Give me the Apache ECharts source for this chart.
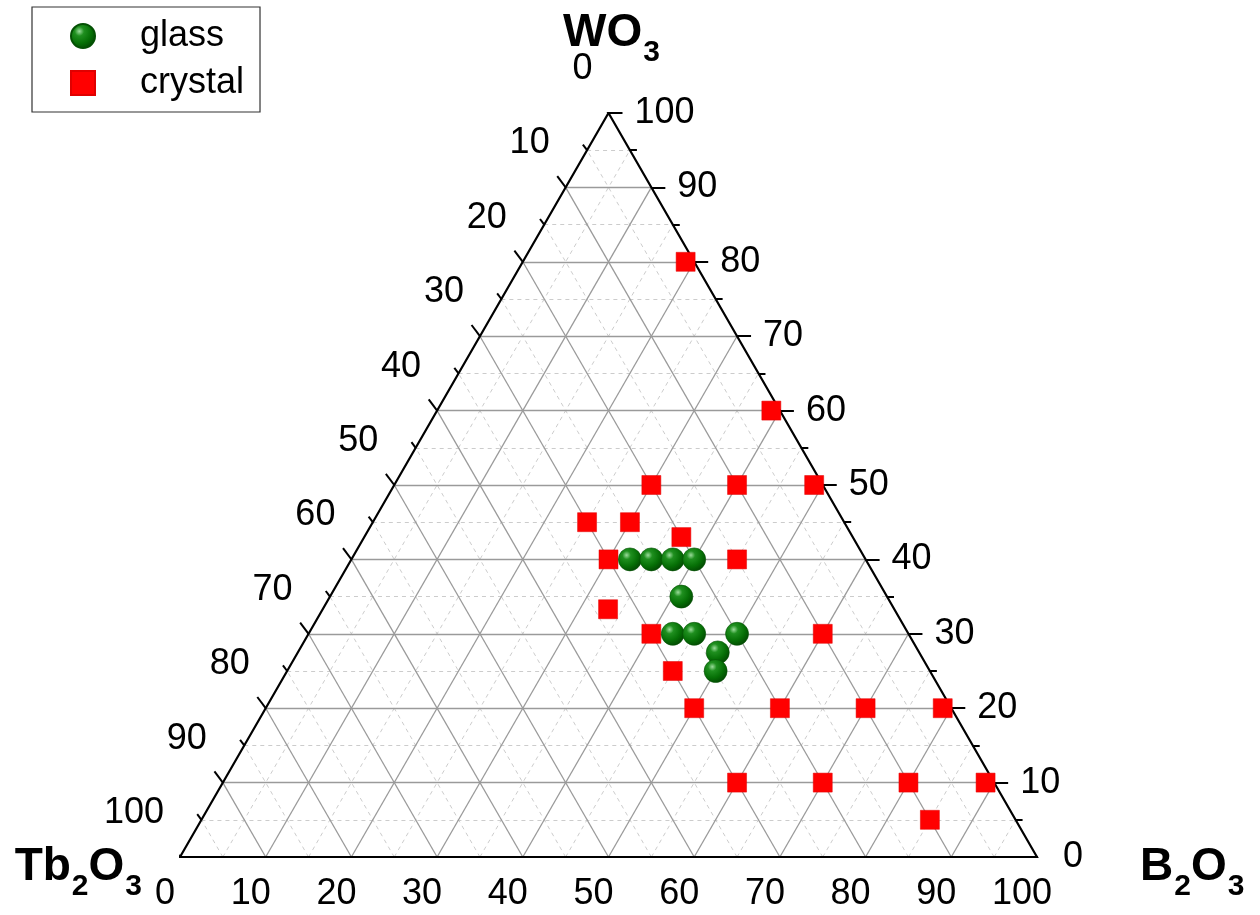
<!DOCTYPE html>
<html>
<head>
<meta charset="utf-8">
<title>WO3 – B2O3 – Tb2O3 glass-forming region</title>
<script src="https://cdn.jsdelivr.net/npm/echarts@6/dist/echarts.min.js"></script>
<style>
  html, body { margin: 0; padding: 0; background: #ffffff; }
  #chart { width: 1260px; height: 915px; }
</style>
</head>
<body>
<div id="chart"></div>
<script>
// Compositions in mol% : WO3, B2O3, Tb2O3
const crystalWO3   = [80, 60, 50, 50, 50, 45, 45, 43, 40, 40, 33.3, 30, 30, 25, 20, 20, 20, 20, 10, 10, 10, 10, 5];
const crystalB2O3  = [19, 39, 30, 40, 49, 25, 30, 37, 30, 45, 33.3, 40, 60, 45, 50, 60, 70, 79, 60, 70, 80, 89, 85];
const crystalTb2O3 = [1, 1, 20, 10, 1, 30, 25, 20, 30, 15, 33.4, 30, 10, 30, 30, 20, 10, 1, 30, 20, 10, 1, 10];

const glassWO3   = [40, 40, 40, 40, 35, 30, 30, 30, 27.5, 25];
const glassB2O3  = [32.5, 35, 37.5, 40, 41, 42.5, 45, 50, 49, 50];
const glassTb2O3 = [27.5, 25, 22.5, 20, 24, 27.5, 25, 20, 23.5, 25];

// Axis ticks (same scale on all three sides)
const tickValues = [0, 10, 20, 30, 40, 50, 60, 70, 80, 90, 100];
const minorValues = [5, 15, 25, 35, 45, 55, 65, 75, 85, 95];

// Plot area of the triangle
const GRID = { left: 180, right: 223, top: 113, bottom: 58 };
const plotW = 1260 - GRID.left - GRID.right;
const plotH = 915 - GRID.top - GRID.bottom;
const pxX = plotW / 100;   // pixels per x unit
const pxY = plotH / 100;   // pixels per y unit

// ternary (WO3 top, B2O3 right, Tb2O3 left) -> cartesian [x, y]
function toXY(w, b, t) {
  const s = w + b + t;
  const wn = w / s * 100, bn = b / s * 100;
  return [bn + wn / 2, wn];
}
// offset a data point by a pixel vector
function shift(p, dx, dy) {
  return [p[0] + dx / pxX, p[1] - dy / pxY];
}

const crystalData = crystalWO3.map((w, i) => toXY(w, crystalB2O3[i], crystalTb2O3[i]));
const glassData = glassWO3.map((w, i) => toXY(w, glassB2O3[i], glassTb2O3[i]));

// grid lines: constant WO3 (horizontal), constant B2O3, constant Tb2O3
function gridSegments(values) {
  const segs = [];
  values.forEach(v => {
    segs.push({ coords: [toXY(v, 0, 100 - v), toXY(v, 100 - v, 0)] });
    segs.push({ coords: [toXY(0, v, 100 - v), toXY(100 - v, v, 0)] });
    segs.push({ coords: [toXY(0, 100 - v, v), toXY(100 - v, 0, v)] });
  });
  return segs;
}
const majorGrid = gridSegments(tickValues.filter(v => v > 0 && v < 100));
const minorGrid = gridSegments(minorValues);

// axis edge points
const rightPt  = w => toXY(w, 100 - w, 0);   // WO3 axis
const bottomPt = b => toXY(0, b, 100 - b);   // B2O3 axis
const leftPt   = t => toXY(100 - t, 0, t);   // Tb2O3 axis

function tickSegments(values, len) {
  const segs = [];
  values.forEach(v => {
    const r = rightPt(v);  segs.push({ coords: [r, shift(r, len, 0)] });
    const b = bottomPt(v); segs.push({ coords: [b, shift(b, -len * 0.27, len * 0.96)] });
    const l = leftPt(v);   segs.push({ coords: [l, shift(l, -len * 0.6, -len * 0.8)] });
  });
  return segs;
}
const majorTicks = tickSegments(tickValues, 14);
const minorTicks = tickSegments(minorValues, 7);

const FONT = 'Liberation Sans, Arial, sans-serif';
const tickFont = { fontFamily: FONT, fontSize: 36, color: '#000', textBorderWidth: 0, opacity: 1 };

function labelSeries(points, labels, label) {
  return {
    type: 'scatter', silent: true, z: 6, symbolSize: 0.1,
    itemStyle: { color: 'rgba(0,0,0,0)', opacity: 1 },
    data: points.map((p, i) => ({ value: p, label: { formatter: String(labels[i]) } })),
    label: Object.assign({ show: true, position: 'inside' }, tickFont, label)
  };
}

const titleRich = {
  m: { fontFamily: FONT, fontWeight: 'bold', fontSize: 46, lineHeight: 46, color: '#000', verticalAlign: 'top' },
  s: { fontFamily: FONT, fontWeight: 'bold', fontSize: 30, lineHeight: 30, color: '#000', verticalAlign: 'top', padding: [28, 0, 0, 1] }
};

const sphere = {
  type: 'radial', x: 0.36, y: 0.32, r: 0.72,
  colorStops: [
    { offset: 0, color: '#9bdc9b' },
    { offset: 0.25, color: '#1f8f1f' },
    { offset: 0.65, color: '#067006' },
    { offset: 1, color: '#024802' }
  ]
};

const chart = echarts.init(document.getElementById('chart'));
chart.setOption({
  animation: false,
  backgroundColor: '#ffffff',
  grid: Object.assign({ containLabel: false }, GRID),
  xAxis: { type: 'value', min: 0, max: 100, show: false },
  yAxis: { type: 'value', min: 0, max: 100, show: false },
  legend: {
    orient: 'vertical', left: 32, top: 7,
    padding: [11, 16, 11, 38],
    itemGap: 11, itemWidth: 24, itemHeight: 24,
    borderColor: '#333', borderWidth: 1.2,
    data: [
      { name: 'glass', icon: 'circle' },
      { name: 'crystal', icon: 'rect' }
    ],
    textStyle: { fontFamily: FONT, fontSize: 36, color: '#000', padding: [0, 0, 0, 40] }
  },
  series: [
    { type: 'lines', coordinateSystem: 'cartesian2d', silent: true, z: 1, data: minorGrid,
      lineStyle: { color: '#cccccc', width: 1, type: [4, 4], opacity: 1 } },
    { type: 'lines', coordinateSystem: 'cartesian2d', silent: true, z: 2, data: majorGrid,
      lineStyle: { color: '#9a9a9a', width: 1.3, opacity: 1 } },
    { type: 'lines', coordinateSystem: 'cartesian2d', silent: true, z: 3, polyline: true,
      data: [{ coords: [toXY(0, 0, 100), toXY(0, 100, 0), toXY(100, 0, 0), toXY(0, 0, 100)] }],
      lineStyle: { color: '#000', width: 2.2, opacity: 1 } },
    { type: 'lines', coordinateSystem: 'cartesian2d', silent: true, z: 3, data: majorTicks,
      lineStyle: { color: '#000', width: 2, opacity: 1 } },
    { type: 'lines', coordinateSystem: 'cartesian2d', silent: true, z: 3, data: minorTicks,
      lineStyle: { color: '#000', width: 2, opacity: 1 } },
    // WO3 axis labels (right side)
    labelSeries(tickValues.map(rightPt), tickValues, { offset: [26, 0], align: 'left', verticalAlign: 'middle' }),
    // B2O3 axis labels (bottom)
    labelSeries(tickValues.map(bottomPt), tickValues, { offset: [-15, 37], align: 'center', verticalAlign: 'middle' }),
    // Tb2O3 axis labels (left side)
    labelSeries(tickValues.map(leftPt), tickValues, { offset: [-16, -44], align: 'right', verticalAlign: 'middle' }),
    // component names at the vertices
    {
      type: 'scatter', silent: true, z: 6, symbolSize: 0.1, itemStyle: { color: 'rgba(0,0,0,0)', opacity: 1 },
      data: [
        { value: toXY(100, 0, 0), label: { formatter: '{m|WO}{s|3}', align: 'center', offset: [3, -80] } },
        { value: toXY(0, 0, 100), label: { formatter: '{m|Tb}{s|2}{m|O}{s|3}', align: 'right', offset: [-38, 10] } },
        { value: toXY(0, 100, 0), label: { formatter: '{m|B}{s|2}{m|O}{s|3}', align: 'left', offset: [103, 10] } }
      ],
      label: { show: true, position: 'inside', verticalAlign: 'middle', textBorderWidth: 0, opacity: 1, rich: titleRich }
    },
    {
      name: 'crystal', type: 'scatter', z: 8, symbol: 'rect', symbolSize: 19,
      itemStyle: { color: '#ff0000', borderColor: '#e00000', borderWidth: 0.5, opacity: 1 },
      data: crystalData
    },
    {
      name: 'glass', type: 'scatter', z: 9, symbol: 'circle', symbolSize: 23,
      itemStyle: { color: sphere, borderColor: '#045004', borderWidth: 0.6, opacity: 1 },
      data: glassData
    }
  ]
});
</script>
</body>
</html>
